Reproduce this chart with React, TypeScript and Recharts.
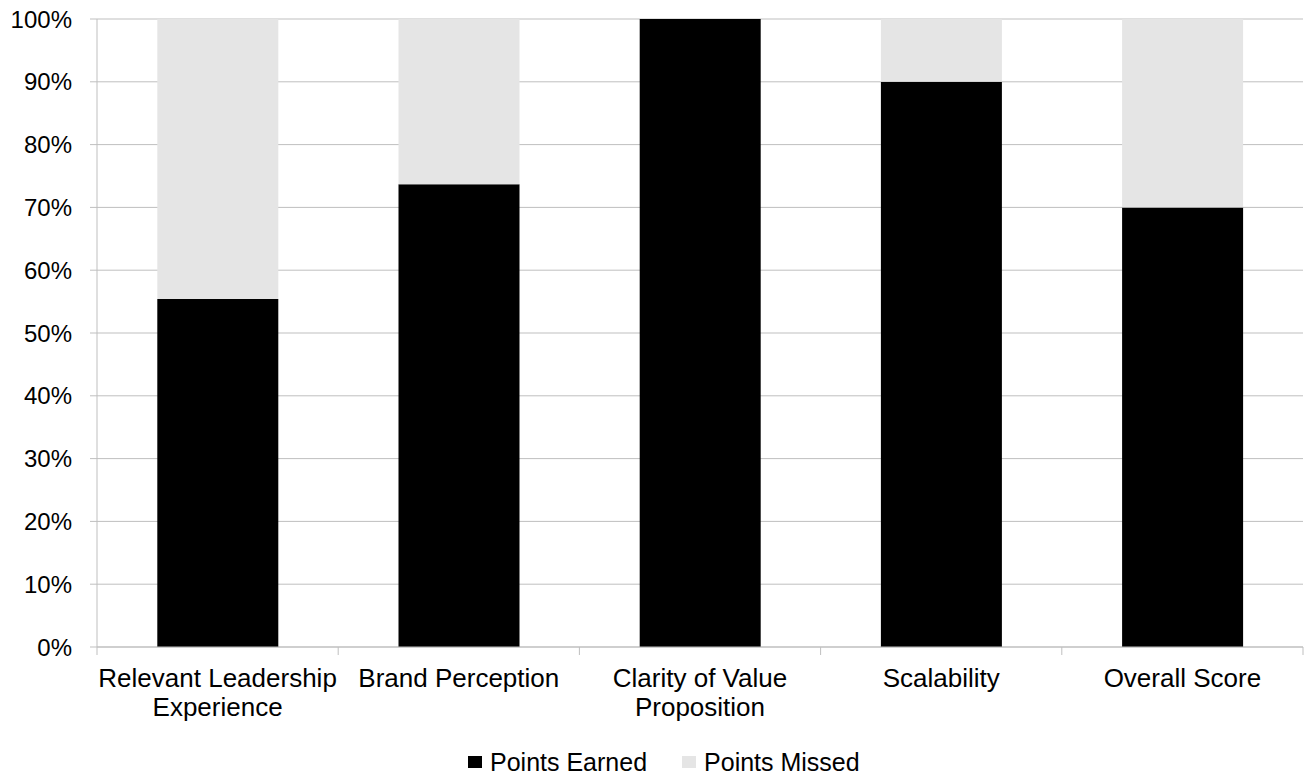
import React from "react";
import { BarChart, Bar, XAxis, YAxis, CartesianGrid } from "recharts";

const categories = [
  "Relevant Leadership\nExperience",
  "Brand Perception",
  "Clarity of Value\nProposition",
  "Scalability",
  "Overall Score",
];
const pointsEarned = [55.4, 73.7, 100, 90, 70];
const pointsMissed = [44.6, 26.3, 0, 10, 30];
const yTicks = [0, 10, 20, 30, 40, 50, 60, 70, 80, 90, 100];

const data = categories.map((name, i) => ({
  name,
  earned: pointsEarned[i],
  missed: pointsMissed[i],
}));

const FONT = "'Liberation Sans', Arial, sans-serif";
const GRID = "#bfbfbf";

const CategoryTick = (props: any) => {
  const { x, y, payload, index } = props;
  const half = payload && payload.offset ? payload.offset : 120.6;
  const lines = String(payload.value).split("\n");
  return (
    <g>
      <line x1={x - half} y1={y - 8} x2={x - half} y2={y} stroke={GRID} strokeWidth={1} />
      {index === categories.length - 1 && (
        <line x1={x + half} y1={y - 8} x2={x + half} y2={y} stroke={GRID} strokeWidth={1} />
      )}
      {lines.map((line, i) => (
        <text
          key={i}
          x={x}
          y={y + 32 + i * 29}
          textAnchor="middle"
          fontSize={26}
          fontFamily={FONT}
          fill="#000"
        >
          {line}
        </text>
      ))}
    </g>
  );
};

const Legend = () => (
  <div
    style={{
      position: "absolute",
      left: 468,
      top: 747,
      display: "flex",
      alignItems: "center",
      whiteSpace: "nowrap",
      fontFamily: FONT,
      fontSize: 25,
      lineHeight: "30px",
      color: "#000",
    }}
  >
    <span style={{ display: "inline-block", width: 14, height: 12, background: "#000", marginRight: 8 }} />
    <span>Points Earned</span>
    <span style={{ display: "inline-block", width: 14, height: 12, background: "#e5e5e5", marginLeft: 35, marginRight: 8 }} />
    <span>Points Missed</span>
  </div>
);

export default function App() {
  return (
    <div style={{ position: "absolute", left: 0, top: 0, width: 1306, height: 777, background: "#fff" }}>
      <BarChart
        width={1306}
        height={777}
        data={data}
        margin={{ top: 19, right: 3, left: 0, bottom: 40 }}
        barCategoryGap="25%"
      >
        <CartesianGrid vertical={false} stroke={GRID} strokeWidth={1} />
        <XAxis
          dataKey="name"
          height={90}
          axisLine={{ stroke: GRID, strokeWidth: 1 }}
          tickLine={false}
          interval={0}
          tick={<CategoryTick />}
        />
        <YAxis
          width={97}
          domain={[0, 100]}
          ticks={yTicks}
          tickFormatter={(v: number) => `${v}%`}
          axisLine={{ stroke: GRID, strokeWidth: 1 }}
          tickLine={{ stroke: GRID, strokeWidth: 1 }}
          tickSize={7}
          tickMargin={18}
          tick={{ fontSize: 24, fontFamily: FONT, fill: "#000" }}
        />
        <Bar dataKey="earned" stackId="a" fill="#000000" isAnimationActive={false} />
        <Bar dataKey="missed" stackId="a" fill="#e5e5e5" isAnimationActive={false} />
      </BarChart>
      <Legend />
    </div>
  );
}
